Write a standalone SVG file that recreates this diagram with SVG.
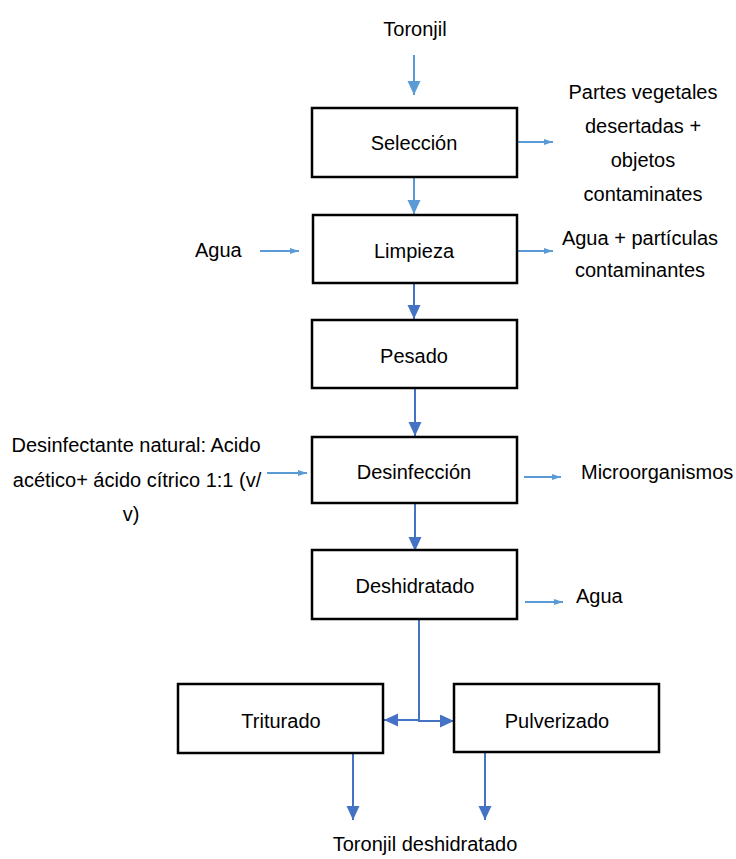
<svg xmlns="http://www.w3.org/2000/svg" width="736" height="859" viewBox="0 0 736 859">
<style>
text{font-family:"Liberation Sans",Arial,sans-serif;font-size:20px;fill:#000;text-anchor:middle}
.l{text-anchor:start}
.box{fill:#fff;stroke:#000;stroke-width:2.5}
.lb{stroke:#5B9BD5;stroke-width:2;fill:none}
.db{stroke:#4472C4;stroke-width:2;fill:none}
</style>
<defs>
<marker id="bigL" markerWidth="14" markerHeight="14" refX="14" refY="6.5" orient="auto" markerUnits="userSpaceOnUse"><path d="M0,0 L14,6.5 L0,13 Z" fill="#5B9BD5"/></marker>
<marker id="bigD" markerWidth="14" markerHeight="14" refX="14" refY="6.5" orient="auto" markerUnits="userSpaceOnUse"><path d="M0,0 L14,6.5 L0,13 Z" fill="#4472C4"/></marker>
<marker id="sm" markerWidth="9" markerHeight="6" refX="9" refY="3" orient="auto" markerUnits="userSpaceOnUse"><path d="M0,0 L9,3 L0,6 Z" fill="#5B9BD5"/></marker>
</defs>

<g id="connectors">
<line class="lb" x1="414" y1="55" x2="414" y2="95" marker-end="url(#bigL)"/>
<line class="lb" x1="414" y1="177" x2="414" y2="214" marker-end="url(#bigL)"/>
<line class="db" x1="414" y1="283" x2="414" y2="319" marker-end="url(#bigD)"/>
<line class="db" x1="415" y1="388" x2="415" y2="436" marker-end="url(#bigD)"/>
<line class="db" x1="415" y1="503" x2="415" y2="551" marker-end="url(#bigD)"/>
<polyline class="db" points="419,619 419,720 384,720" marker-end="url(#bigD)"/>
<polyline class="db" points="419,720 419,721 454,721" marker-end="url(#bigD)"/>
<line class="db" x1="353" y1="753" x2="353" y2="820" marker-end="url(#bigD)"/>
<line class="db" x1="485" y1="753" x2="485" y2="820" marker-end="url(#bigD)"/>
<line class="lb" x1="518" y1="142" x2="553" y2="142" marker-end="url(#sm)"/>
<line class="lb" x1="260" y1="251" x2="299" y2="251" marker-end="url(#sm)"/>
<line class="lb" x1="518" y1="251" x2="553" y2="251" marker-end="url(#sm)"/>
<line class="lb" x1="267" y1="473" x2="307" y2="473" marker-end="url(#sm)"/>
<line class="lb" x1="524" y1="477" x2="561" y2="477" marker-end="url(#sm)"/>
<line class="lb" x1="525" y1="602" x2="563" y2="602" marker-end="url(#sm)"/>
</g>

<g id="toronjil"><text x="415" y="36">Toronjil</text></g>
<g id="seleccion"><rect class="box" x="312" y="108" width="205" height="69"/><text x="414" y="150">Selección</text></g>
<g id="limpieza"><rect class="box" x="313" y="215" width="204" height="68"/><text x="414" y="258">Limpieza</text></g>
<g id="pesado"><rect class="box" x="312" y="320" width="205" height="68"/><text x="414" y="363">Pesado</text></g>
<g id="desinfeccion"><rect class="box" x="312" y="437" width="205" height="66"/><text x="414" y="479">Desinfección</text></g>
<g id="deshidratado"><rect class="box" x="312" y="550" width="205" height="69"/><text x="415" y="593">Deshidratado</text></g>
<g id="triturado"><rect class="box" x="178" y="684" width="205" height="69"/><text x="281" y="728">Triturado</text></g>
<g id="pulverizado"><rect class="box" x="454" y="684" width="205" height="68"/><text x="557" y="728">Pulverizado</text></g>

<g id="partes"><text x="643" y="99">Partes vegetales</text><text x="643" y="133">desertadas +</text><text x="643" y="167">objetos</text><text x="643" y="201">contaminates</text></g>
<g id="agua-in"><text class="l" x="195" y="257">Agua</text></g>
<g id="agua-out1"><text x="640" y="245">Agua + partículas</text><text x="640" y="277">contaminantes</text></g>
<g id="desinfectante"><text x="136" y="452">Desinfectante natural: Acido</text><text x="137" y="487">acético+ ácido cítrico 1:1 (v/</text><text x="131" y="521">v)</text></g>
<g id="microorganismos"><text class="l" x="581" y="479">Microorganismos</text></g>
<g id="agua-out2"><text class="l" x="576" y="603">Agua</text></g>
<g id="producto"><text x="425" y="851">Toronjil deshidratado</text></g>
</svg>
